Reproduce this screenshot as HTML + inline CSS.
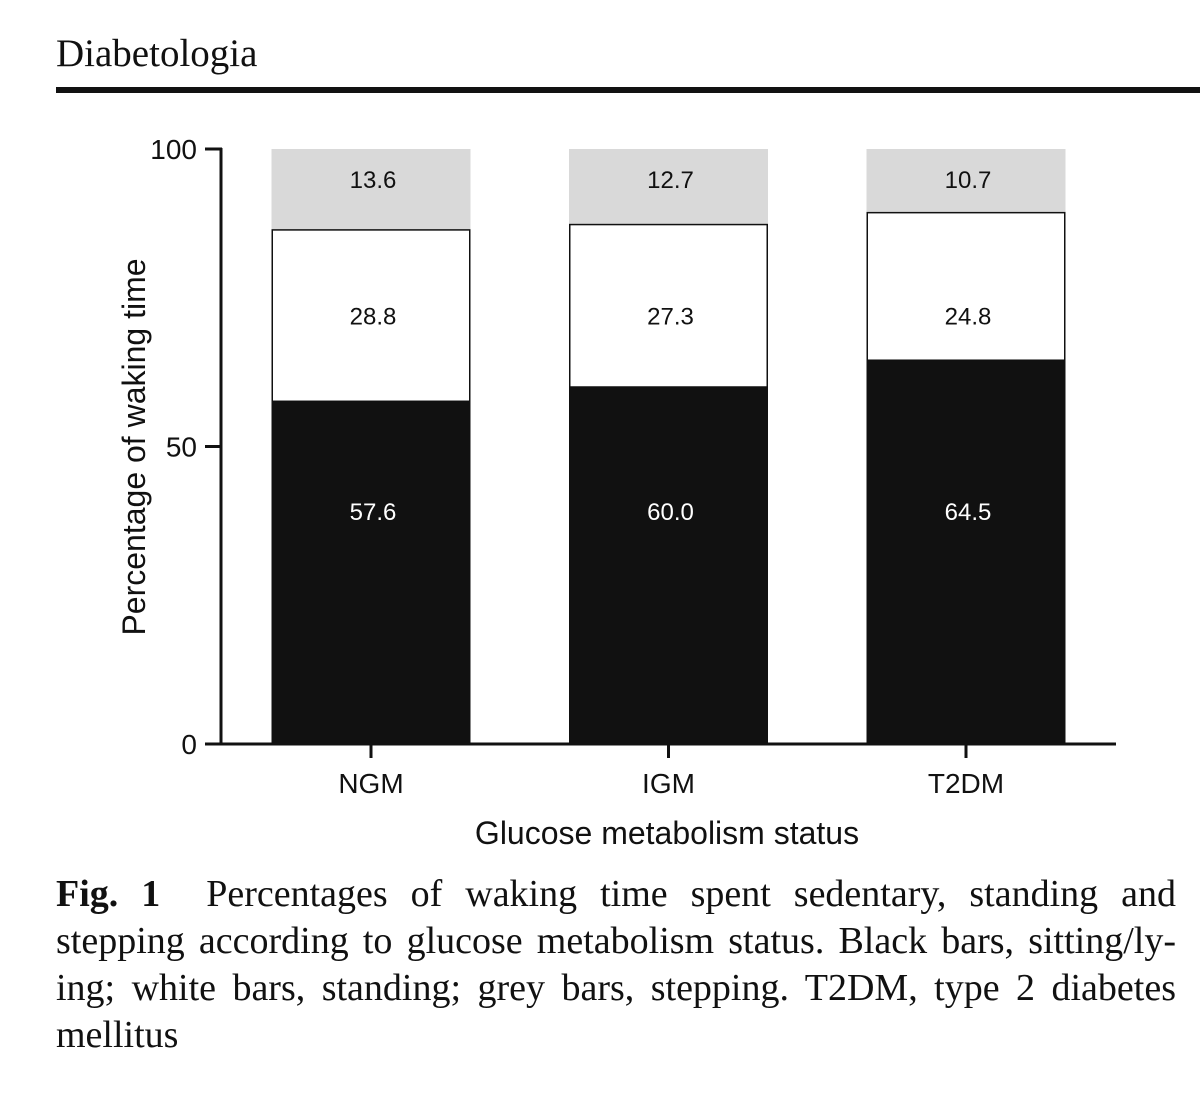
<!DOCTYPE html>
<html><head><meta charset="utf-8"><style>
html,body{margin:0;padding:0;background:#fff;width:1200px;height:1112px;overflow:hidden}
.cap{position:absolute;left:56px;width:1120px;font-family:"Liberation Serif",serif;font-size:38px;color:#111;line-height:47px;white-space:nowrap}
.j{text-align:justify;text-align-last:justify}
</style></head><body>
<div style="position:absolute;left:56px;top:31px;font-family:'Liberation Serif',serif;font-size:39px;color:#111">Diabetologia</div>
<div style="position:absolute;left:56px;top:87px;width:1144px;height:6px;background:#111"></div>
<svg id="chart" width="1200" height="860" style="position:absolute;left:0;top:0" font-family="Liberation Sans, sans-serif"></svg>
<div>
<div class="cap j" style="top:871px"><b>Fig. 1</b>&nbsp; Percentages of waking time spent sedentary, standing and</div>
<div class="cap j" style="top:918px">stepping according to glucose metabolism status. Black bars, sitting/ly-</div>
<div class="cap j" style="top:965px">ing; white bars, standing; grey bars, stepping. T2DM, type 2 diabetes</div>
<div class="cap" style="top:1012px">mellitus</div>
</div>
<script>
const categories=["NGM","IGM","T2DM"];
const sitting=[57.6,60.0,64.5];
const standing=[28.8,27.3,24.8];
const stepping=[13.6,12.7,10.7];
const yTicks=[0,50,100];
const svg=document.getElementById('chart');
const NS='http://www.w3.org/2000/svg';
const y0=744,y100=149;
const yS=v=>y0-(y0-y100)*v/100;
const centers=[371,668,966];
const xS=i=>centers[0]+i*(centers[2]-centers[0])/(categories.length-1);
const bw=199;
const rowStep=95,rowStand=72,rowSit=39.2;
function mk(t,a,txt){const e=document.createElementNS(NS,t);for(const k in a)e.setAttribute(k,a[k]);if(txt!==undefined)e.textContent=txt;svg.appendChild(e);return e;}
categories.forEach((c,i)=>{
  const x=xS(i)-bw/2;
  const b0=0,b1=sitting[i],b2=b1+standing[i],b3=b2+stepping[i];
  let r=mk('rect',{x:x,y:yS(b3),width:bw,height:yS(b2)-yS(b3),fill:'#d9d9d9'});
  
  r=mk('rect',{x:x+0.75,y:yS(b2),width:bw-1.5,height:yS(b1)-yS(b2),fill:'#fff',stroke:'#111','stroke-width':1.5});
  
  r=mk('rect',{x:x,y:yS(b1),width:bw,height:yS(b0)-yS(b1),fill:'#111'});
  
  let t=mk('text',{x:xS(i)+2,y:yS(rowStep)+9,'text-anchor':'middle','font-size':24,fill:'#111'},stepping[i].toFixed(1));
  
  t=mk('text',{x:xS(i)+2,y:yS(rowStand)+9,'text-anchor':'middle','font-size':24,fill:'#111'},standing[i].toFixed(1));
  
  t=mk('text',{x:xS(i)+2,y:yS(rowSit)+9,'text-anchor':'middle','font-size':24,fill:'#fff'},sitting[i].toFixed(1));
  
  let tk=mk('line',{x1:xS(i),x2:xS(i),y1:y0,y2:y0+14,stroke:'#111','stroke-width':3});
  
  t=mk('text',{x:xS(i),y:y0+49,'text-anchor':'middle','font-size':28,fill:'#111'},c);
  
});
let ax=mk('line',{x1:221,x2:221,y1:y100-1,y2:y0+1.5,stroke:'#111','stroke-width':3});

ax=mk('line',{x1:219.5,x2:1116,y1:y0,y2:y0,stroke:'#111','stroke-width':3});

yTicks.forEach(v=>{
  const l=mk('line',{x1:205,x2:222,y1:yS(v),y2:yS(v),stroke:'#111','stroke-width':3});
  
  const t=mk('text',{x:197,y:yS(v)+10,'text-anchor':'end','font-size':28,fill:'#111'},String(v));
  
});
let t=mk('text',{x:667,y:844,'text-anchor':'middle','font-size':32,fill:'#111'},'Glucose metabolism status');

t=mk('text',{x:0,y:0,'text-anchor':'middle','font-size':32,fill:'#111',transform:'translate(145,447) rotate(-90)'},'Percentage of waking time');

</script>
</body></html>
